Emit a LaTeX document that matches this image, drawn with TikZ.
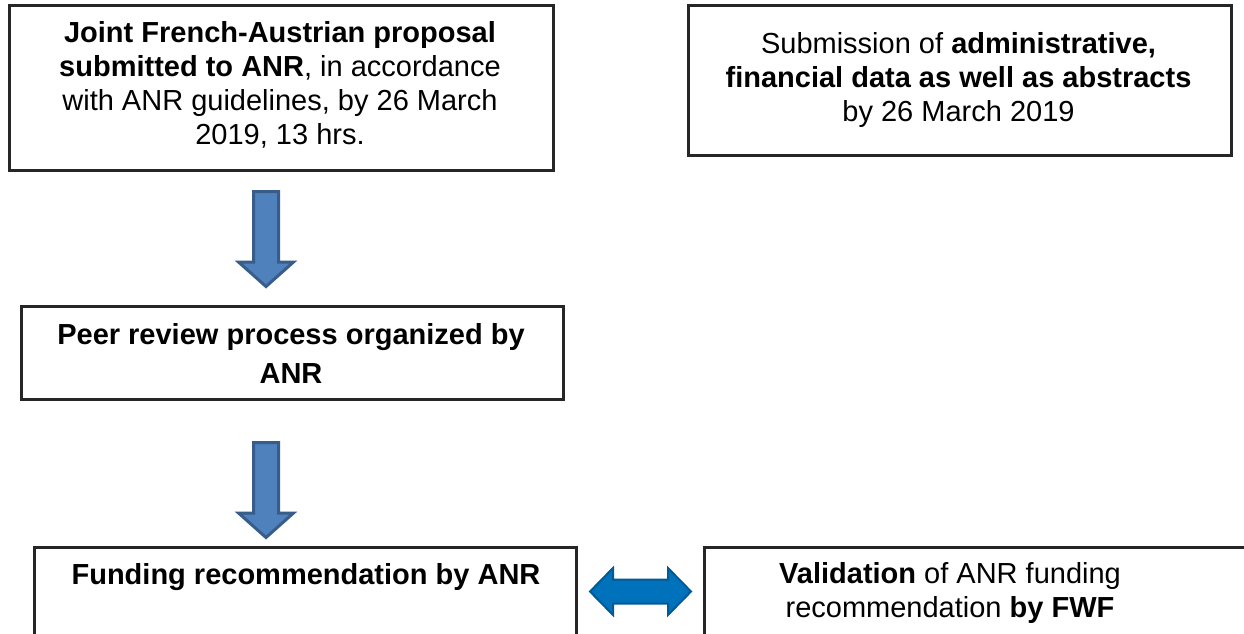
\documentclass[tikz,border=0pt]{standalone}
\usepackage{fontspec}
\setmainfont{Liberation Sans}
\usetikzlibrary{calc}
\definecolor{arrfill}{RGB}{79,129,189}
\definecolor{arrline}{RGB}{56,93,138}
\definecolor{dblfill}{RGB}{0,114,188}
\definecolor{dblline}{RGB}{0,90,150}
\begin{document}
\begin{tikzpicture}[x=1pt,y=-1pt,
  box/.style={draw=black!85, line width=2.5pt, fill=white, anchor=north west, inner sep=0pt},
  txt/.style={align=center, inner sep=0pt, font=\fontsize{29}{34}\selectfont},
  downarr/.style={fill=arrfill, draw=arrline, line width=3pt, line join=miter},
  dblarr/.style={fill=dblfill, draw=dblline, line width=2pt, line join=miter}]
\useasboundingbox (0,0) rectangle (1244,633);
\clip (0,0) rectangle (1244,633);
\fill[white] (0,0) rectangle (1244,633);

% boxes
\node[box, minimum width=544pt, minimum height=165pt] (b1) at (8,4) {};
\node[box, minimum width=543pt, minimum height=150pt] (b2) at (687,4) {};
\node[box, minimum width=542pt, minimum height=93pt] (b3) at (20,305) {};
\node[box, minimum width=542pt, minimum height=160pt] (b4) at (33,546) {};
\node[box, minimum width=560pt, minimum height=160pt] (b5) at (703,546) {};

% texts
\node[txt] (t1) at (280,85) {\textbf{Joint French-Austrian proposal}\\
  \textbf{submitted to ANR}, in accordance\\
  with ANR guidelines, by 26 March\\
  2019, 13 hrs.};
\node[txt] (t2) at (958.5,80) {Submission of \textbf{administrative,}\\
  \textbf{financial data as well as abstracts}\\
  by 26 March 2019};
\node[txt, font=\fontsize{29}{39}\selectfont] (t3) at (291,353) {\textbf{Peer review process organized by}\\ \textbf{ANR}};
\node[txt] (t4) at (306,577) {\textbf{Funding recommendation by ANR}};
\node[txt] (t5) at (950,593) {\textbf{Validation} of ANR funding\\
  recommendation \textbf{by FWF}};

% down arrows
\coordinate (a1) at (266,191.5);
\coordinate (a2) at (266,442.5);
\draw[downarr] (a1) ++(-12.5,0) -- ++(25,0) -- ++(0,70.5) -- ++(15,0)
  -- ($(a1)+(0,95)$) -- ($(a1)+(-27.5,70.5)$) -- ++(15,0) -- cycle;
\draw[downarr] (a2) ++(-12.5,0) -- ++(25,0) -- ++(0,70.5) -- ++(15,0)
  -- ($(a2)+(0,95)$) -- ($(a2)+(-27.5,70.5)$) -- ++(15,0) -- cycle;

% double arrow
\coordinate (d) at (640.5,591.5);
\draw[dblarr] ($(d)+(-50.5,0)$) -- ++(23,-23.5) -- ++(0,11.5) -- ++(55,0)
  -- ++(0,-11.5) -- ++(23,23.5) -- ++(-23,23.5) -- ++(0,-11.5) -- ++(-55,0)
  -- ++(0,11.5) -- cycle;
\end{tikzpicture}
\end{document}
